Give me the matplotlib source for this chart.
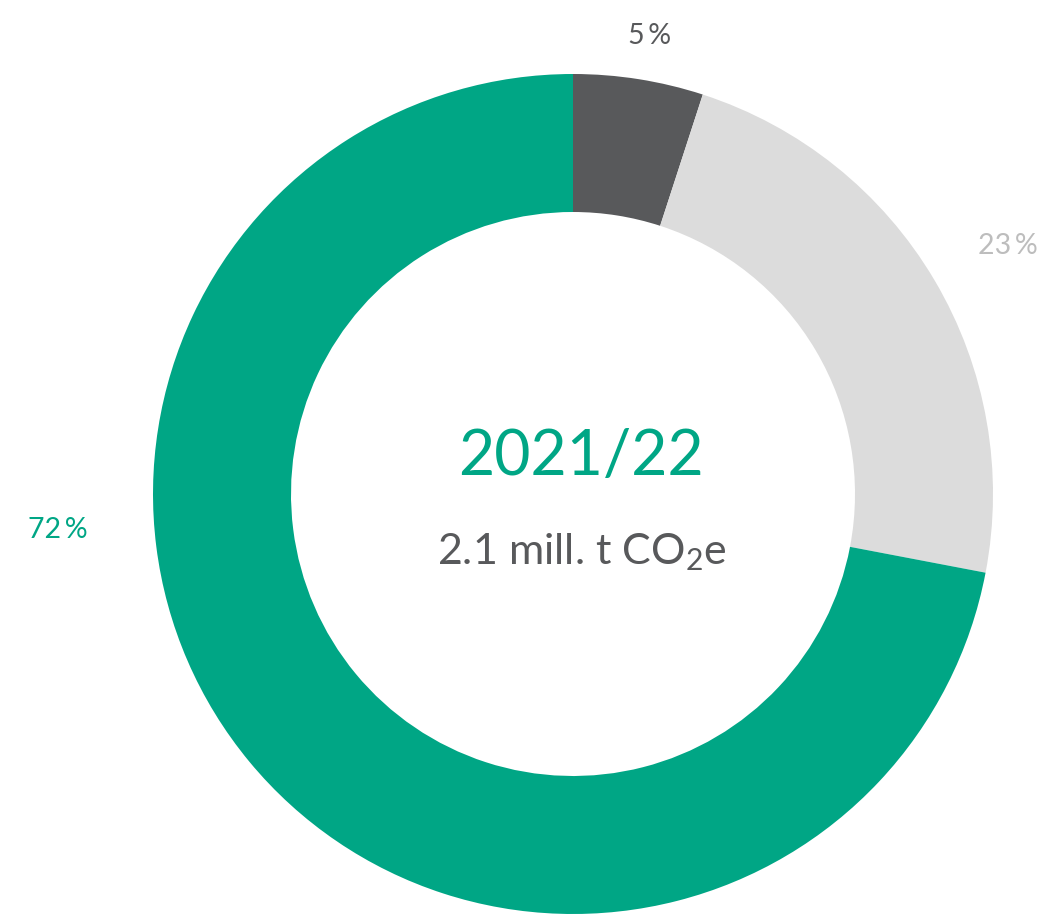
import matplotlib.pyplot as plt

shares = [5, 23, 72]
labels = ['5\u2009%', '23\u2009%', '72\u2009%']
colors = ['#58595B', '#DCDCDC', '#00A685']
label_colors = ['#58595B', '#BDBDBD', '#00A685']
year = '2021/22'
total = r'2.1 mill. t CO$\mathregular{_2}$e'

plt.rcParams['font.family'] = ['Lato', 'DejaVu Sans']
plt.rcParams['mathtext.fontset'] = 'custom'
plt.rcParams['mathtext.rm'] = 'Lato'

fig = plt.figure(figsize=(10.44, 9.16), dpi=100)
ax = fig.add_axes([0, 0, 1, 1])
ax.set_xlim(0, 1044)
ax.set_ylim(0, 916)
ax.set_aspect('equal')
ax.axis('off')

cx, cy = 573, 422
ax.pie(shares, colors=colors, center=(cx, cy), radius=420, startangle=90,
       counterclock=False, wedgeprops=dict(width=138, linewidth=0))
ax.set_xlim(0, 1044)
ax.set_ylim(0, 916)

# label positions in pixels
pos = [(650, 880), (1008, 670), (58, 386)]
for (x, y), t, c in zip(pos, labels, label_colors):
    ax.text(x, y, t, color=c, fontsize=20.5, ha='center', va='center')

ax.text(cx + 8, 459, year, color='#00A685', fontsize=45, ha='center', va='center')
ax.text(cx + 9, 364, total, color='#58595B', fontsize=31, ha='center', va='center')

fig.savefig('out.png', dpi=100)
